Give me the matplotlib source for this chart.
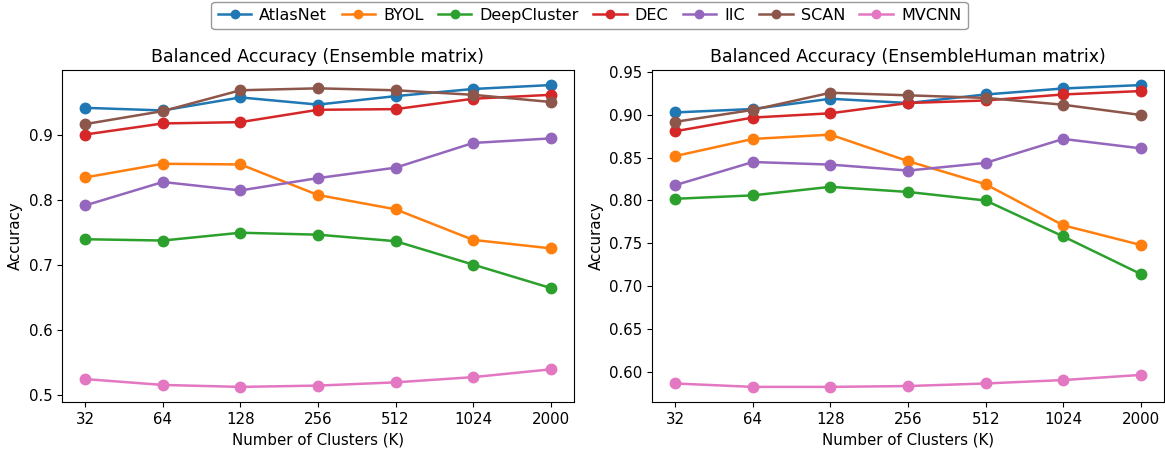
import matplotlib.pyplot as plt

clusters = ["32", "64", "128", "256", "512", "1024", "2000"]
methods = ["AtlasNet", "BYOL", "DeepCluster", "DEC", "IIC", "SCAN", "MVCNN"]

ensemble = {
  "AtlasNet":    [0.941, 0.937, 0.957, 0.946, 0.959, 0.970, 0.976],
  "BYOL":        [0.834, 0.855, 0.854, 0.807, 0.785, 0.738, 0.725],
  "DeepCluster": [0.739, 0.737, 0.749, 0.746, 0.736, 0.700, 0.664],
  "DEC":         [0.900, 0.917, 0.919, 0.938, 0.939, 0.955, 0.961],
  "IIC":         [0.791, 0.827, 0.814, 0.833, 0.849, 0.887, 0.894],
  "SCAN":        [0.916, 0.936, 0.968, 0.971, 0.968, 0.961, 0.950],
  "MVCNN":       [0.524, 0.515, 0.512, 0.514, 0.519, 0.527, 0.539],
}

ensemble_human = {
  "AtlasNet":    [0.903, 0.907, 0.919, 0.914, 0.924, 0.931, 0.935],
  "BYOL":        [0.852, 0.872, 0.877, 0.846, 0.819, 0.771, 0.748],
  "DeepCluster": [0.802, 0.806, 0.816, 0.810, 0.800, 0.758, 0.714],
  "DEC":         [0.881, 0.897, 0.902, 0.914, 0.917, 0.924, 0.928],
  "IIC":         [0.818, 0.845, 0.842, 0.835, 0.844, 0.872, 0.861],
  "SCAN":        [0.892, 0.906, 0.926, 0.923, 0.920, 0.912, 0.900],
  "MVCNN":       [0.586, 0.582, 0.582, 0.583, 0.586, 0.590, 0.596],
}

titles = ["Balanced Accuracy (Ensemble matrix)", "Balanced Accuracy (EnsembleHuman matrix)"]

plt.rcParams['font.size'] = 10.8

fig = plt.figure(figsize=(11.65, 4.5), dpi=100)
ax1 = fig.add_axes([0.0532, 0.1067, 0.4395, 0.7378])
ax2 = fig.add_axes([0.5597, 0.1067, 0.4395, 0.7378])

for ax, data, title in zip([ax1, ax2], [ensemble, ensemble_human], titles):
  x = list(range(len(clusters)))
  for m in methods:
    ax.plot(x, data[m], marker='o', markersize=7.5, linewidth=1.8, label=m)
  ax.set_xticks(x)
  ax.set_xticklabels(clusters)
  ax.set_title(title, fontsize=12.5)
  ax.set_xlabel("Number of Clusters (K)")
  ax.set_ylabel("Accuracy")

handles, labels = ax1.get_legend_handles_labels()
fig.legend(handles, labels, loc='upper center', ncol=7, bbox_to_anchor=(0.506, 1.0),
           borderaxespad=0.1, fancybox=True, framealpha=1, edgecolor='0.6',
           fontsize=11.5, columnspacing=0.9, handletextpad=0.5, handlelength=2.1,
           markerscale=0.8)

plt.savefig("out.png", dpi=100)
